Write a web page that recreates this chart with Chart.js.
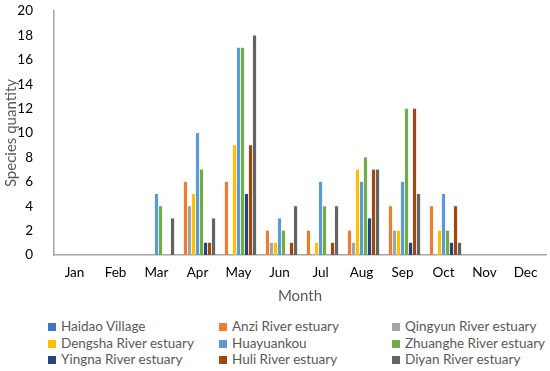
<!DOCTYPE html>
<html>
<head>
<meta charset="utf-8">
<script src="https://cdn.jsdelivr.net/npm/chart.js@4.4.1/dist/chart.umd.min.js"></script>
<style>
  html, body { margin: 0; padding: 0; background: #fff; overflow: hidden; }
  #wrap { position: relative; width: 550px; height: 371px; overflow: hidden; font-family: Lato, "Liberation Sans", sans-serif; }
  #chart { position: absolute; left: 0; top: -10px; }
  #legend { position: absolute; left: 0; top: 318px; width: 550px; }
  .item { position: absolute; font-size: 13.5px; color: #595959; white-space: nowrap; line-height: 16px; }
  .item span.sw { display: inline-block; width: 8px; height: 8px; margin-right: 5px; vertical-align: 0px; }
</style>
</head>
<body>
<div id="wrap">
  <canvas id="chart" width="550" height="322"></canvas>
  <div id="legend"></div>
</div>
<script>
// Data
const months = ["Jan", "Feb", "Mar", "Apr", "May", "Jun", "Jul", "Aug", "Sep", "Oct", "Nov", "Dec"];
const siteNames = [
  "Haidao Village", "Anzi River estuary", "Qingyun River estuary",
  "Dengsha River estuary", "Huayuankou", "Zhuanghe River estuary",
  "Yingna River estuary", "Huli River estuary", "Diyan River estuary"
];
const haidaoVillage = [0, 0, 0, 0, 0, 0, 0, 0, 0, 0, 0, 0];
const anziRiver     = [0, 0, 0, 6, 6, 2, 2, 2, 4, 4, 0, 0];
const qingyunRiver  = [0, 0, 0, 4, 0, 1, 0, 1, 2, 0, 0, 0];
const dengshaRiver  = [0, 0, 0, 5, 9, 1, 1, 7, 2, 2, 0, 0];
const huayuankou    = [0, 0, 5, 10, 17, 3, 6, 6, 6, 5, 0, 0];
const zhuangheRiver = [0, 0, 4, 7, 17, 2, 4, 8, 12, 2, 0, 0];
const yingnaRiver   = [0, 0, 0, 1, 5, 0, 0, 3, 1, 1, 0, 0];
const huliRiver     = [0, 0, 0, 1, 9, 1, 1, 7, 12, 4, 0, 0];
const diyanRiver    = [0, 0, 3, 3, 18, 4, 4, 7, 5, 1, 0, 0];
const yTicks = [0, 2, 4, 6, 8, 10, 12, 14, 16, 18, 20];

const seriesValues = [haidaoVillage, anziRiver, qingyunRiver, dengshaRiver, huayuankou,
  zhuangheRiver, yingnaRiver, huliRiver, diyanRiver];
const colors = ["#4472C4", "#ED7D31", "#A5A5A5", "#FFC000", "#5B9BD5",
  "#70AD47", "#264478", "#9E480E", "#636363"];

const FONT = "Lato, 'Liberation Sans', sans-serif";

const datasets = siteNames.map((name, i) => ({
  label: name,
  data: seriesValues[i],
  backgroundColor: colors[i],
  borderWidth: 0,
  categoryPercentage: 0.88,
  barPercentage: 0.8
}));

new Chart(document.getElementById("chart"), {
  type: "bar",
  data: { labels: months, datasets },
  options: {
    responsive: false,
    animation: false,
    devicePixelRatio: 1,
    layout: { padding: { top: 0, right: 4, left: 0, bottom: 0 } },
    plugins: { legend: { display: false }, tooltip: { enabled: false } },
    scales: {
      x: {
        afterFit: (scale) => { scale.height = 57; },
        grid: { display: false },
        border: { display: true, color: "#A6A6A6", width: 1.5 },
        ticks: { color: "#000", font: { family: FONT, size: 13.5 }, padding: 2, maxRotation: 0, autoSkip: false },
        title: { display: true, text: "Month", color: "#595959", font: { family: FONT, size: 15 }, padding: { top: 4, bottom: 7 } }
      },
      y: {
        min: 0,
        max: 20,
        afterBuildTicks: (scale) => { scale.ticks = yTicks.map(v => ({ value: v })); },
        afterFit: (scale) => { scale.width = 54; },
        grid: { display: false },
        border: { display: true, color: "#A6A6A6", width: 1.5 },
        ticks: { color: "#000", font: { family: FONT, size: 13.5 }, padding: 13, autoSkip: false },
        title: { display: true, text: "Species quantity", color: "#595959", font: { family: FONT, size: 15 }, padding: { top: 2, bottom: 0 } }
      }
    }
  }
});

// Legend in three columns
const legend = document.getElementById("legend");
const colX = [48, 219, 392];
siteNames.forEach((name, i) => {
  const el = document.createElement("div");
  el.className = "item";
  el.style.left = colX[i % 3] + "px";
  el.style.top = (Math.floor(i / 3) * 16.5) + "px";
  el.innerHTML = `<span class="sw" style="background:${colors[i]}"></span>${name}`;
  legend.appendChild(el);
});
</script>
</body>
</html>
